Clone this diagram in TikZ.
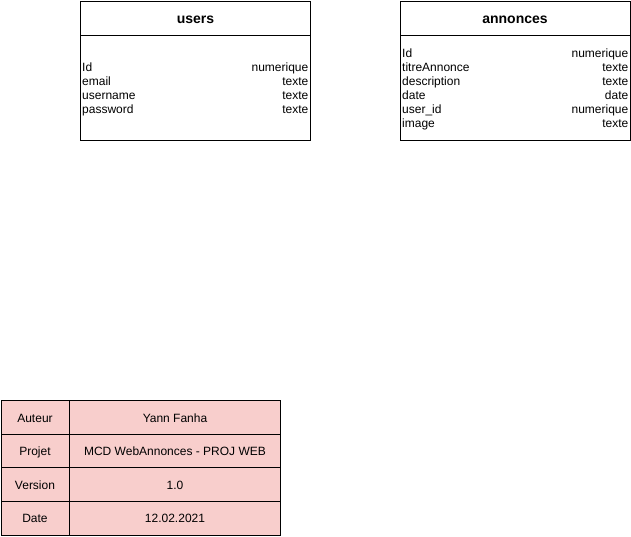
\documentclass[tikz,border=0pt]{standalone}
\usepackage{fontspec}
\setmainfont{Liberation Sans}
\definecolor{pinkfill}{HTML}{F8CECC}
\begin{document}
\begin{tikzpicture}[x=1pt,y=-1pt,
  box/.style={draw=black, line width=0.8pt, fill=white},
  title/.style={font=\fontsize{14}{16}\selectfont\bfseries, inner sep=0pt, text height=10pt, text depth=3pt, yshift=-1.8pt},
  lt/.style={anchor=west, font=\fontsize{12}{14}\selectfont, inner sep=0pt, text height=8.6pt, text depth=2.6pt, yshift=-1.5pt},
  rt/.style={anchor=east, font=\fontsize{12}{14}\selectfont, inner sep=0pt, text height=8.6pt, text depth=2.6pt, yshift=-1.5pt},
  cell/.style={draw=black, line width=0.8pt, fill=pinkfill},
  ct/.style={font=\fontsize{12}{14}\selectfont, inner sep=0pt, text height=8.6pt, text depth=2.6pt, yshift=-1.5pt}]
\useasboundingbox (0,0) rectangle (631,536);
% users
\draw[box] (80.5,1) rectangle (310.5,140);
\draw[line width=0.8pt] (80.5,35) -- (310.5,35);
\node[title] (usersT) at (195.5,18) {users};
\node[lt] (u1) at (82,67) {Id};
\node[rt] (u1t) at (308.5,67) {numerique};
\node[lt] (u2) at (82,81) {email};
\node[rt] (u2t) at (308.5,81) {texte};
\node[lt] (u3) at (82,95) {username};
\node[rt] (u3t) at (308.5,95) {texte};
\node[lt] (u4) at (82,109) {password};
\node[rt] (u4t) at (308.5,109) {texte};
% annonces
\draw[box] (400.5,1) rectangle (630,140);
\draw[line width=0.8pt] (400.5,35) -- (630,35);
\node[title] (annT) at (515,18) {annonces};
\node[lt] (a1) at (402,53) {Id};
\node[rt] (a1t) at (628.5,53) {numerique};
\node[lt] (a2) at (402,67) {titreAnnonce};
\node[rt] (a2t) at (628.5,67) {texte};
\node[lt] (a3) at (402,81) {description};
\node[rt] (a3t) at (628.5,81) {texte};
\node[lt] (a4) at (402,95) {date};
\node[rt] (a4t) at (628.5,95) {date};
\node[lt] (a5) at (402,109) {user\_id};
\node[rt] (a5t) at (628.5,109) {numerique};
\node[lt] (a6) at (402,123) {image};
\node[rt] (a6t) at (628.5,123) {texte};
% info table
\draw[cell] (1,400.5) rectangle (280.5,535);
\draw[line width=0.8pt] (69.5,400.5) -- (69.5,535);
\draw[line width=0.8pt] (1,434) -- (280.5,434);
\draw[line width=0.8pt] (1,467.5) -- (280.5,467.5);
\draw[line width=0.8pt] (1,501) -- (280.5,501);
\node[ct] (k1) at (35,417.5) {Auteur};
\node[ct] (v1) at (175,417.5) {Yann Fanha};
\node[ct] (k2) at (35,451) {Projet};
\node[ct] (v2) at (175,451) {MCD WebAnnonces - PROJ WEB};
\node[ct] (k3) at (35,484.5) {Version};
\node[ct] (v3) at (175,484.5) {1.0};
\node[ct] (k4) at (35,518) {Date};
\node[ct] (v4) at (175,518) {12.02.2021};
\end{tikzpicture}
\end{document}
